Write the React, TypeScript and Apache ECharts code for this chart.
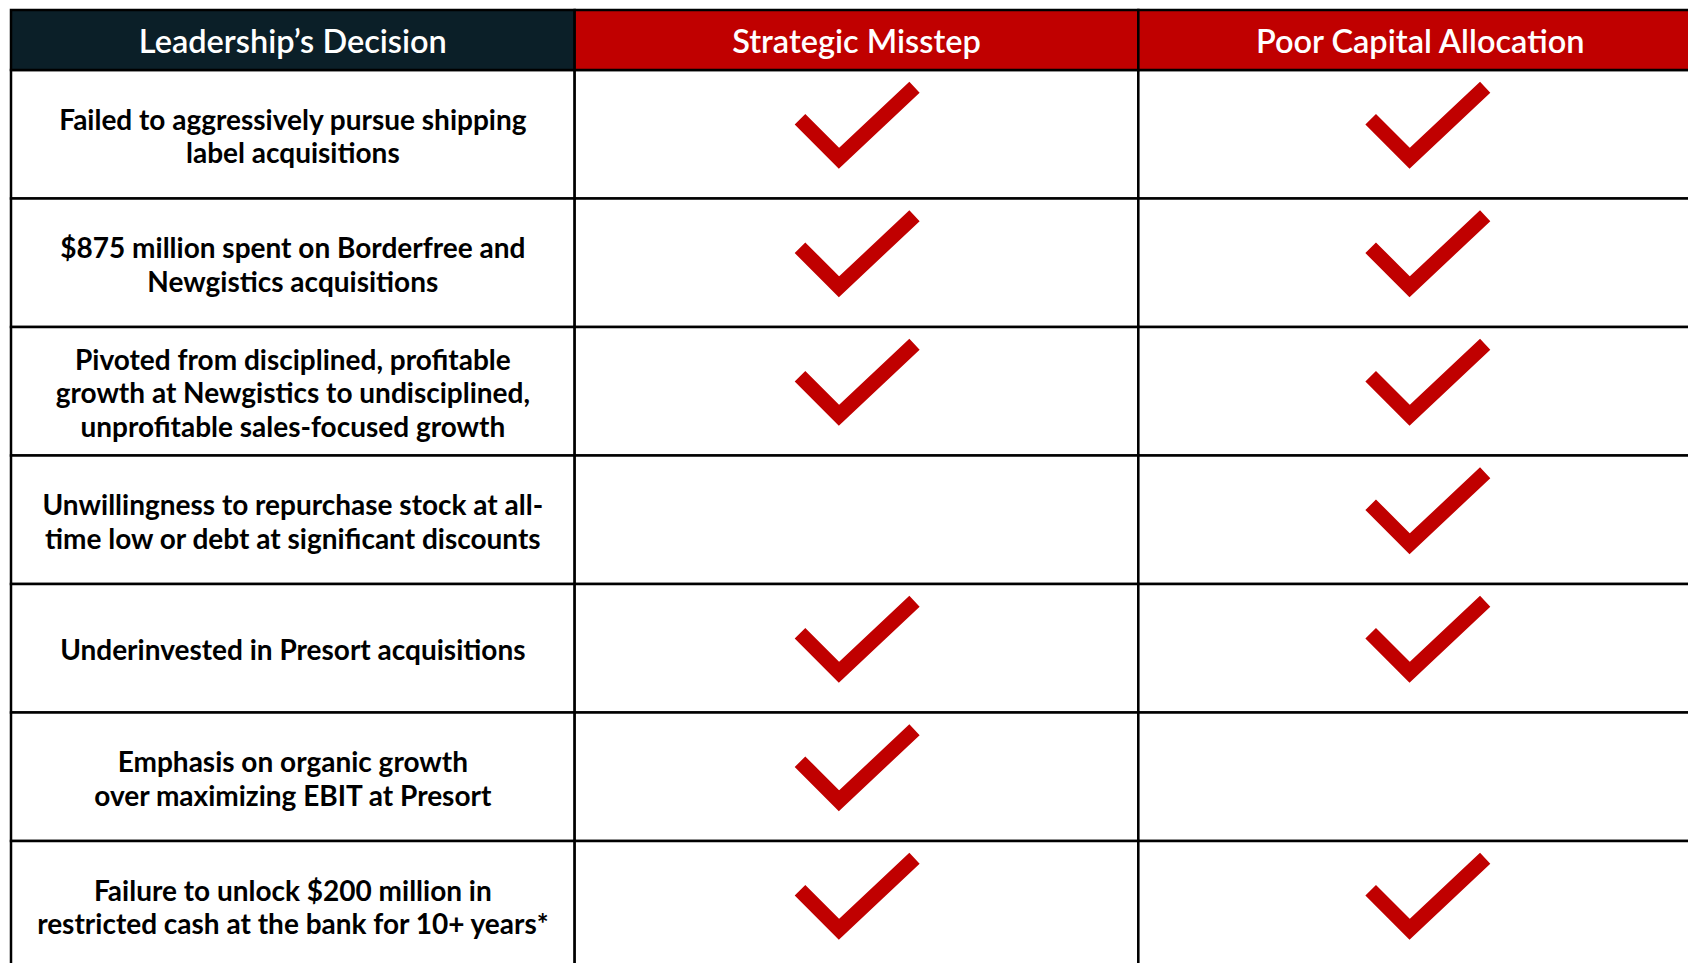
import React, { useEffect, useRef } from "react";
import * as echarts from "echarts";

const headers = ["Leadership’s Decision", "Strategic Misstep", "Poor Capital Allocation"];
const decisions = [
  "Failed to aggressively pursue shipping\nlabel acquisitions",
  "$875 million spent on Borderfree and\nNewgistics acquisitions",
  "Pivoted from disciplined, profitable\ngrowth at Newgistics to undisciplined,\nunprofitable sales-focused growth",
  "Unwillingness to repurchase stock at all-\ntime low or debt at significant discounts",
  "Underinvested in Presort acquisitions",
  "Emphasis on organic growth\nover maximizing EBIT at Presort",
  "Failure to unlock $200 million in\nrestricted cash at the bank for 10+ years*",
];
const strategicMisstep = [1, 1, 1, 0, 1, 1, 1];
const poorCapitalAllocation = [1, 1, 1, 1, 1, 0, 1];

const NAVY = "#0B1F28";
const RED = "#C00000";
const HEADER_H = 60;
const FONT = "Lato, 'Open Sans', sans-serif";

export default function App() {
  const ref = useRef<HTMLDivElement>(null);

  useEffect(() => {
    if (!ref.current) return;
    const chart = echarts.init(ref.current, undefined, { renderer: "svg" });
    const nRows = decisions.length;

    const cellData: number[][] = [];
    for (let r = 0; r < nRows; r++) for (let c = 0; c < 3; c++) cellData.push([c, r]);

    const checkData: number[][] = [];
    strategicMisstep.forEach((v, r) => { if (v) checkData.push([1, r]); });
    poorCapitalAllocation.forEach((v, r) => { if (v) checkData.push([2, r]); });

    const textData = decisions.map((t, r) => [0, r, t]);
    const headerData = headers.map((h, c) => [c, 0, h]);

    chart.setOption({
      animation: false,
      backgroundColor: "#ffffff",
      grid: {
        left: 11,
        top: 70,
        width: 1691,
        height: 128.5 * nRows,
        outerBoundsMode: "none",
        containLabel: false,
      },
      xAxis: { type: "value", min: 0, max: 3, show: false },
      yAxis: { type: "value", min: 0, max: nRows, inverse: true, show: false },
      series: [
        {
          type: "custom",
          name: "cells",
          clip: false,
          data: cellData,
          renderItem: (params: any, api: any) => {
            const p = api.coord([api.value(0), api.value(1)]);
            const s = api.size([1, 1]);
            return {
              type: "rect",
              shape: { x: p[0], y: p[1], width: s[0], height: s[1] },
              style: { fill: "#ffffff", stroke: "#000000", lineWidth: 2.5 },
            };
          },
        },
        {
          type: "custom",
          name: "header",
          clip: false,
          data: headerData,
          renderItem: (params: any, api: any) => {
            const c = api.value(0);
            const p = api.coord([c, 0]);
            const s = api.size([1, 1]);
            return {
              type: "group",
              children: [
                {
                  type: "rect",
                  shape: { x: p[0], y: p[1] - HEADER_H, width: s[0], height: HEADER_H },
                  style: { fill: c === 0 ? NAVY : RED, stroke: "#000000", lineWidth: 2.5 },
                },
                {
                  type: "text",
                  x: p[0] + s[0] / 2,
                  y: p[1] - HEADER_H / 2,
                  style: {
                    text: headers[c],
                    fill: "#ffffff",
                    fontFamily: FONT,
                    fontWeight: 600,
                    fontSize: 32.5,
                    align: "center",
                    verticalAlign: "middle",
                  },
                },
              ],
            };
          },
        },
        {
          type: "custom",
          name: "decisions",
          clip: false,
          data: textData,
          renderItem: (params: any, api: any) => {
            const r = api.value(1);
            const p = api.coord([0.5, r + 0.5]);
            return {
              type: "text",
              x: p[0],
              y: p[1] + 1,
              style: {
                text: decisions[r],
                fill: "#000000",
                fontFamily: FONT,
                fontWeight: "bold",
                fontSize: 28,
                lineHeight: 33.5,
                align: "center",
                verticalAlign: "middle",
              },
            };
          },
        },
        {
          type: "custom",
          name: "checks",
          clip: false,
          data: checkData,
          renderItem: (params: any, api: any) => {
            const c = api.value(0);
            const p = api.coord([c + 0.5, api.value(1) + 0.5]);
            const cx = p[0] + (c === 2 ? 7 : 0);
            const vy = p[1] + 24;
            const vx = cx - 17.5;
            return {
              type: "polyline",
              shape: {
                points: [
                  [vx - 39, vy - 39],
                  [vx, vy],
                  [vx + 75.5, vy - 71],
                ],
              },
              style: { fill: null, stroke: RED, lineWidth: 15, lineJoin: "miter", lineCap: "butt" },
            };
          },
        },
      ],
    });
    return () => chart.dispose();
  }, []);

  return (
    <div
      ref={ref}
      style={{ position: "absolute", left: 0, top: 0, width: 1688, height: 963, background: "#fff" }}
    />
  );
}
